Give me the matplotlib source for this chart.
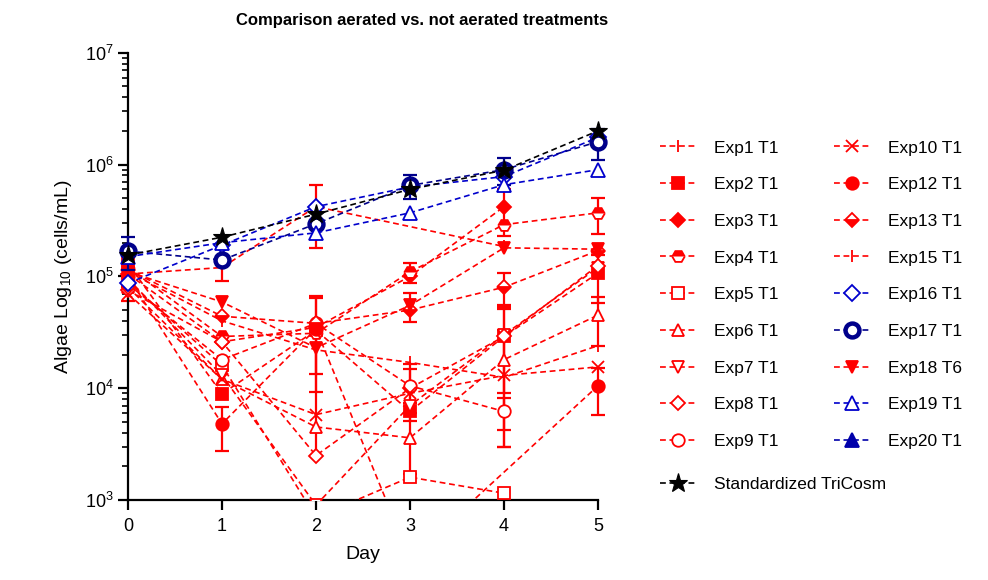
import numpy as np
import matplotlib
matplotlib.use('Agg')
import matplotlib.pyplot as plt
from matplotlib.ticker import LogLocator

plt.rcParams['font.family'] = 'Liberation Sans'
plt.rcParams['mathtext.fontset'] = 'custom'
plt.rcParams['mathtext.rm'] = 'Liberation Sans'
plt.rcParams['mathtext.it'] = 'Liberation Sans:italic'
plt.rcParams['mathtext.bf'] = 'Liberation Sans:bold'
plt.rcParams['mathtext.default'] = 'regular'

nan = np.nan
days = [0, 1, 2, 3, 4, 5]

# algae counts (cells/mL) per day, with SD where it was measured
exp1 = [1.10e5, 4.0e4, 2.2e4, 1.7e4, 1.25e4, 2.4e4]
exp1_sd = [nan] * 6
exp2 = [1.30e5, 8.9e3, 3.3e4, 6.2e3, 2.9e4, 1.07e5]
exp2_sd = [nan, nan, 3.05e4, 1.1e3, 2.6e4, 4.9e4]
exp3 = [1.05e5, 2.6e4, 3.5e4, 1.0e5, 4.2e5, nan]
exp3_sd = [nan, nan, nan, nan, 1.9e5, nan]
exp4 = [1.20e5, 2.9e4, 3.1e4, 1.1e5, 2.9e5, 3.7e5]
exp4_sd = [nan, nan, nan, 2.2e4, nan, 1.3e5]
exp5 = [9.0e4, 1.6e4, 7.0e2, 1.6e3, 1.15e3, nan]
exp5_sd = [nan] * 6
exp6 = [8.0e4, 1.2e4, 4.5e3, 3.6e3, 1.8e4, 4.5e4]
exp6_sd = [nan, nan, nan, nan, 1.5e4, 2.1e4]
exp7 = [9.5e4, 1.3e4, 9.0e2, 7.0e3, 3.0e4, 1.2e5]
exp7_sd = [nan, nan, nan, nan, 2.1e4, nan]
exp8 = [7.5e4, 2.6e4, 2.5e3, 1.0e4, 2.9e4, 1.25e5]
exp8_sd = [nan] * 6
exp9 = [8.5e4, 1.8e4, 3.8e4, 1.05e4, 6.2e3, nan]
exp9_sd = [nan, nan, nan, 4.5e3, 2.0e3, nan]
exp10 = [7.0e4, 1.2e4, 5.8e3, 9.0e3, 1.3e4, 1.55e4]
exp10_sd = [1.0e4, nan, nan, 7.3e3, nan, nan]
exp12 = [1.0e5, 4.8e3, 3.4e4, 3.0e2, nan, 1.05e4]
exp12_sd = [nan, 2.05e3, nan, nan, nan, 4.7e3]
exp13 = [1.15e5, 4.4e4, 3.8e4, 5.0e4, 8.0e4, 1.7e5]
exp13_sd = [nan, nan, 2.87e4, nan, 2.7e4, nan]
exp15 = [1.05e5, 1.2e5, 4.2e5, nan, 1.85e5, nan]
exp15_sd = [nan, 3.0e4, 2.4e5, nan, nan, nan]
exp16 = [8.7e4, 1.9e5, 4.2e5, 6.3e5, 7.8e5, 1.75e6]
exp16_sd = [nan] * 6
exp17 = [1.68e5, 1.4e5, 2.95e5, 6.5e5, 9.0e5, 1.6e6]
exp17_sd = [5.5e4, nan, nan, 1.6e5, 2.5e5, 5.0e5]
exp18 = [1.10e5, 5.9e4, 2.3e4, 5.5e4, 1.8e5, 1.75e5]
exp18_sd = [nan, nan, 9.5e3, 1.6e4, nan, nan]
exp19 = [1.5e5, 2.0e5, 2.45e5, 3.7e5, 6.6e5, 9.0e5]
exp19_sd = [nan] * 6
exp20 = [nan] * 6
exp20_sd = [nan] * 6
tricosm = [1.55e5, 2.24e5, 3.6e5, 6.0e5, 8.9e5, 2.0e6]
tricosm_sd = [nan] * 6

RED = '#ff0000'
BLUE = '#0000cc'
NAVY = '#00008b'

fig = plt.figure(figsize=(9.88, 5.8), dpi=100)
ax = fig.add_axes([0.101, 0.1379, 0.5328, 0.7712])
ax.set_yscale('log')


def draw(vals, sd, label, color, marker, ms=9, mfc=None, mew=1.3, z=3, **kw):
    x = np.array(days, dtype=float)
    y = np.array(vals, dtype=float)
    e = np.array(sd, dtype=float)
    ok = ~np.isnan(y)
    # missing days are skipped, the line joins the neighbours
    line, = ax.plot(x[ok], y[ok], color=color, ls=(0, (3.5, 2.2)), lw=1.2,
                    marker=marker, ms=ms, mec=color,
                    mfc=color if mfc is None else mfc, mew=mew,
                    label=label, zorder=z, **kw)
    has = ok & ~np.isnan(e)
    if has.any():
        ax.errorbar(x[has], y[has], yerr=e[has], fmt='none', ecolor=color,
                    elinewidth=1.6, capsize=5, capthick=1.6, zorder=z - 0.5)
    return line


h = []
h.append(draw(exp1, exp1_sd, 'Exp1 T1', RED, '|'))
h.append(draw(exp2, exp2_sd, 'Exp2 T1', RED, 's'))
h.append(draw(exp3, exp3_sd, 'Exp3 T1', RED, 'D', ms=7))
h.append(draw(exp4, exp4_sd, 'Exp4 T1', RED, 'H', fillstyle='top', markerfacecoloralt='white'))
h.append(draw(exp5, exp5_sd, 'Exp5 T1', RED, 's', mfc='white'))
h.append(draw(exp6, exp6_sd, 'Exp6 T1', RED, '^', mfc='white'))
h.append(draw(exp7, exp7_sd, 'Exp7 T1', RED, 'v', mfc='white'))
h.append(draw(exp8, exp8_sd, 'Exp8 T1', RED, 'D', ms=7, mfc='white'))
h.append(draw(exp9, exp9_sd, 'Exp9 T1', RED, 'o', mfc='white'))
h.append(draw(exp10, exp10_sd, 'Exp10 T1', RED, 'x'))
h.append(draw(exp12, exp12_sd, 'Exp12 T1', RED, 'o'))
h.append(draw(exp13, exp13_sd, 'Exp13 T1', RED, 'D', ms=7, fillstyle='bottom', markerfacecoloralt='white'))
h.append(draw(exp15, exp15_sd, 'Exp15 T1', RED, '|'))
h.append(draw(exp16, exp16_sd, 'Exp16 T1', BLUE, 'D', ms=8, mfc='white', z=5))
h.append(draw(exp17, exp17_sd, 'Exp17 T1', NAVY, 'o', ms=10, mfc='white', mew=3.2, z=5))
h.append(draw(exp18, exp18_sd, 'Exp18 T6', RED, 'v'))
h.append(draw(exp19, exp19_sd, 'Exp19 T1', BLUE, '^', ms=10, mfc='white', z=5))
h.append(draw(exp20, exp20_sd, 'Exp20 T1', '#0000aa', '^', ms=10, z=5))
h_std = draw(tricosm, tricosm_sd, 'Standardized TriCosm', 'black', '*', ms=14, mew=0.8, z=6)

ax.set_ylim(1e3, 1e7)
ax.set_xlim(-0.3, 5.3)
ax.spines[['top', 'right']].set_visible(False)
ax.spines['left'].set_position(('data', 0))
ax.spines['bottom'].set_bounds(0, 5)
for s in ('left', 'bottom'):
    ax.spines[s].set_linewidth(1.6)
ax.set_xticks(days)
ax.yaxis.set_minor_locator(LogLocator(base=10, subs=range(2, 10)))
ax.tick_params(axis='both', which='major', direction='out', width=1.6, length=7, labelsize=13)
ax.tick_params(axis='y', which='minor', direction='out', width=1.2, length=4)
ax.tick_params(axis='x', pad=6)

ax.set_xlabel('Day', fontsize=14, labelpad=8)
ax.set_ylabel('Algae Log$_{10}$ (cells/mL)', fontsize=14, labelpad=8)
fig.text(0.427, 0.965, 'Comparison aerated vs. not aerated treatments',
         ha='center', va='center', fontsize=12, fontweight='bold')

leg = fig.legend(handles=h, ncol=2, loc='upper left', bbox_to_anchor=(0.668, 0.758),
                 frameon=False, fontsize=12.5, borderpad=0, borderaxespad=0,
                 labelspacing=1.24, handlelength=2.1, handletextpad=1.0,
                 columnspacing=3.2)
fig.legend(handles=[h_std], loc='upper left', bbox_to_anchor=(0.668, 0.177),
           frameon=False, fontsize=12.5, borderpad=0, borderaxespad=0,
           handlelength=2.1, handletextpad=1.0)

fig.savefig('out.png', dpi=100)
